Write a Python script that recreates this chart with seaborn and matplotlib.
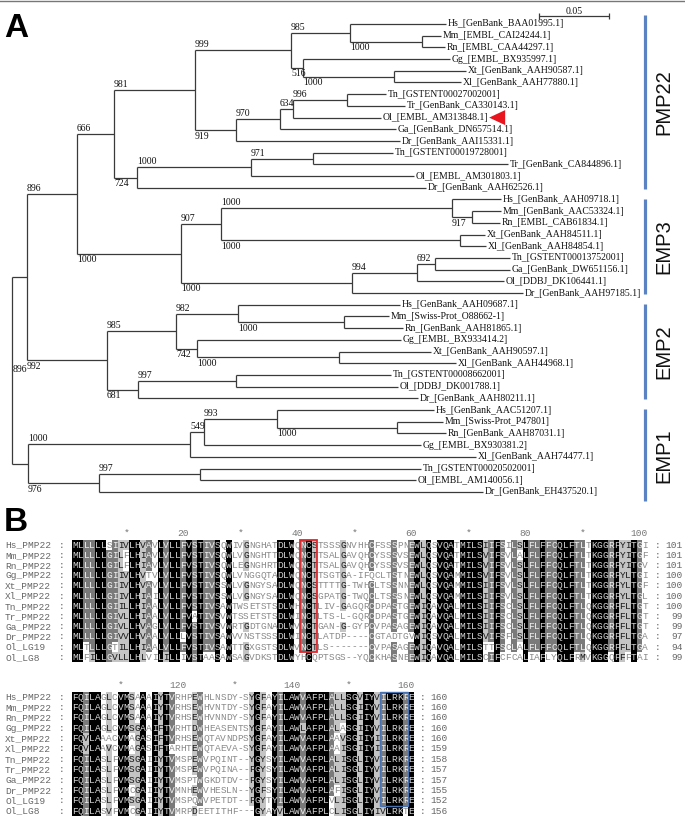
import numpy as np
import matplotlib
matplotlib.use("Agg")
import matplotlib.pyplot as plt
import seaborn as sns
from collections import Counter
from matplotlib.colors import ListedColormap
from matplotlib.patches import Polygon, Rectangle
from matplotlib.lines import Line2D

# ---------------- data: tree (panel A) ----------------
leaf_labels = [
    "Hs_[GenBank_BAA01995.1]", "Mm_[EMBL_CAI24244.1]", "Rn_[EMBL_CAA44297.1]",
    "Gg_[EMBL_BX935997.1]", "Xt_[GenBank_AAH90587.1]", "Xl_[GenBank_AAH77880.1]",
    "Tn_[GSTENT00027002001]", "Tr_[GenBank_CA330143.1]", "Ol_[EMBL_AM313848.1]",
    "Ga_[GenBank_DN657514.1]", "Dr_[GenBank_AAI15331.1]", "Tn_[GSTENT00019728001]",
    "Tr_[GenBank_CA844896.1]", "Ol_[EMBL_AM301803.1]", "Dr_[GenBank_AAH62526.1]",
    "Hs_[GenBank_AAH09718.1]", "Mm_[GenBank_AAC53324.1]", "Rn_[EMBL_CAB61834.1]",
    "Xt_[GenBank_AAH84511.1]", "Xl_[GenBank_AAH84854.1]", "Tn_[GSTENT00013752001]",
    "Ga_[GenBank_DW651156.1]", "Ol_[DDBJ_DK106441.1]", "Dr_[GenBank_AAH97185.1]",
    "Hs_[GenBank_AAH09687.1]", "Mm_[Swiss-Prot_O88662-1]", "Rn_[GenBank_AAH81865.1]",
    "Gg_[EMBL_BX933414.2]", "Xt_[GenBank_AAH90597.1]", "Xl_[GenBank_AAH44968.1]",
    "Tn_[GSTENT00008662001]", "Ol_[DDBJ_DK001788.1]", "Dr_[GenBank_AAH80211.1]",
    "Hs_[GenBank_AAC51207.1]", "Mm_[Swiss-Prot_P47801]", "Rn_[GenBank_AAH87031.1]",
    "Gg_[EMBL_BX930381.2]", "Xl_[GenBank_AAH74477.1]", "Tn_[GSTENT00020502001]",
    "Ol_[EMBL_AM140056.1]", "Dr_[GenBank_EH437520.1]",
]
leaf_depth = [
    0.3100, 0.3064, 0.3093, 0.3129, 0.3243, 0.3207, 0.2671, 0.2807, 0.2636, 0.2743,
    0.2771, 0.2721, 0.3543, 0.2871, 0.2957,
    0.3493, 0.3493, 0.3486, 0.3379, 0.3386, 0.3557, 0.3557, 0.3514, 0.3650,
    0.2771, 0.2693, 0.2793, 0.2779, 0.2993, 0.3171, 0.2707, 0.2757, 0.2900,
    0.3014, 0.3079, 0.3100, 0.2921, 0.3314, 0.2921, 0.2886, 0.3364,
]
node_ids = ["root", "Na", "Nb", "P", "n999", "T1", "HMR", "MR", "GXX", "XX",
            "F1", "F2", "F3", "TT", "Q1", "Q2", "Q3",
            "E3", "E3a", "E3hmr", "E3mr", "E3xx", "E3f", "E3f2", "E3tg",
            "E2", "E2a", "E2hmr", "E2mr", "E2g", "E2xx", "E2f", "E2to",
            "E1", "E1a", "E1b", "E1hmr", "E1mr", "E1f", "E1to"]
node_left = ["Na", "Nb", "P", "n999", "T1", "HMR", 0, 1, 3, 4,
             "F2", "F3", "TT", 6, "Q2", "Q3", 11,
             "E3a", "E3hmr", 15, 16, 18, "E3f2", "E3tg", 20,
             "E2a", "E2hmr", 24, 25, 27, 28, "E2to", 30,
             "E1a", "E1b", "E1hmr", 33, 34, "E1to", 38]
node_right = ["E1", "E2", "E3", "Q1", "F1", "GXX", "MR", 2, "XX", 5,
              10, 9, 8, 7, 14, 13, 12,
              "E3f", "E3xx", "E3mr", 17, 19, 23, 22, 21,
              "E2f", "E2g", "E2mr", 26, "E2xx", 29, 32, 31,
              "E1f", 37, 36, "E1mr", 35, 40, 39]
node_depth = [0.0, 0.0107, 0.0464, 0.0729, 0.1307, 0.1993, 0.2414, 0.2929, 0.2079, 0.2729,
              0.1600, 0.1914, 0.2007, 0.2393, 0.0893, 0.1707, 0.2150,
              0.1207, 0.1493, 0.3143, 0.3286, 0.3200, 0.2429, 0.2893, 0.3021,
              0.0679, 0.1171, 0.1614, 0.2371, 0.1321, 0.2336, 0.0900, 0.1600,
              0.0114, 0.1271, 0.1371, 0.1893, 0.2750, 0.0621, 0.1343]
node_support = [None, 896, 896, 666, 981, 999, 985, 1000, 516, 1000,
                919, 970, 634, 996, 724, 1000, 971,
                1000, 907, 1000, 917, 1000, 1000, 994, 692,
                992, 985, 982, 1000, 742, 1000, 681, 997,
                None, 1000, 549, 993, 1000, 976, 997]
group_names = ["PMP22", "EMP3", "EMP2", "EMP1"]
group_first = [0, 15, 24, 33]
group_last = [14, 23, 32, 40]
highlight_leaf = 8
scale_length = 0.05

# ---------------- data: alignment (panel B) ----------------
seq_names = ["Hs_PMP22", "Mm_PMP22", "Rn_PMP22", "Gg_PMP22", "Xt_PMP22", "Xl_PMP22",
             "Tn_PMP22", "Tr_PMP22", "Ga_PMP22", "Dr_PMP22", "Ol_LG19", "Ol_LG8"]
seq_block1 = [
    "MLLLLLSIIVLHVAVLVLLFVSTIVSQWIVGNGHATDLWQNCSTSSSGNVHHCFSSSPNEWLQSVQATMILSIIFSILSLFLFFCQLFTLTKGGRFYITGI",
    "MLLLLLGILFLHIAVLVLLFVSTIVSQWLVGNGHTTDLWQNCTTSALGAVQHCYSSSVSEWLQSVQATMILSVIFSVLALFLFFCQLFTLTKGGRFYITGF",
    "MLLLLLGILFLHIAVLVLLFVSTIVSQWLEGNGHRTDLWQNCTTSALGAVQHCYSSSVSEWLQSVQATMILSVIFSVLSLFLFFCQLFTLTKGGRFYITGV",
    "MLLLLLGIIVLHVTVLVLLFVSTIVSQWLVNGGQTADLWQNCTTSGTGA-IFQCLTSTNEWLQSVQAMMILSVIFSVLSLFLFFCQLFTLTKGGRFYLTGI",
    "MLLLLLGIIVLHVAVLVLLFVSTIVSSWLVGNGYSADLWQNCSTTTTG-TWHCLTSSNNEWLQSVQAMMILSIIFSVLSLFLFFCQLFTLTKGGRFYLTGF",
    "MLLLLLGIIVLHIAILVLLFVSTIVSSWLVGNGYSADLWQNCSGPATG-TWQCLTSSSNEWLQSVQAMMILSIIFSVLSLFLFFCQLFTLTKGGRFYLTGL",
    "MLLLLLGIILLHIAALVLLFVSTIVSAWTWSETSTSDLWHNCTLIV-GAGQRCDPASTGEWIQAVQALMILSIIFSCLSLFLFFCQLFTLQKGGRFFLTGT",
    "MLLLLLGIVLLHIAALVLLFVATIVSVWTSSETSTSDLWINCTLTS-L-GQRCDPASTGEWIQAVQALMILSIIFSCLSLFLFFCQLFTLQKGGRFFLTGT",
    "MLLLLLGIVLLHVAGLVLLFVSTIVSVWRTGDTGNADLWVNCTGAN-G-GYPCVPASAGEWIQAVQALMILSIIFSCLSLFLFFCQLFTLQKGGRFFLTGT",
    "MLLLLLGIVVLHVAALVLLLVSTIVSAWVVNSTSSSDLWINCTLATDP----CGTADTGVWIQSVQALMILSVIFSFLSLFLFFCQLFTLQKGGRFFLTGA",
    "MLTLLLGTILLHIAALVLLFVSTIVSAWTTGXGSTSDLWVNCTLS-------CVPASAGEWIQAVQALMILSTTFSCLALFLFFCQLFTLQKGGRFFLTGA",
    "MLFILLGVLLLHLVILILLIVSTAASAWSAGVDKSTDLWYHCQPTSGS--YQCKHASNEEWIQAVQALMILSCIFCFCALIAFLYQLFRMVKGGQFFFTAI",
]
seq_block2 = [
    "FQILAGLCVMSAAAIYTVRHPEWHLNSDY-SYGFAYILAWVAFPLALLSGVIYVILRKRE",
    "FQILAGLCVMSAAAIYTVRHSEWHVNTDY-SYGFAYILAWVAFPLALLSGIIYVILRKRE",
    "FQILAGLCVMSAAAIYTVRHSEWHVNNDY-SYGFAYILAWVAFPLALLSGIIYVILRKRE",
    "FQILAGLCVMSGAAIFTVRHTDWHEASENTSYGFAYILAWLAFPLALASGIIYVILRKRE",
    "FQVLAAACVMAGASIFTVRHSEWQTAVNDPSYGFAYILAWVAFPLAAVSGIIYIILRKRE",
    "FQVLAAVCVMAGASIFTARHTEWQTAEVA-SYGFAYILAWVAFPLAAISGIIYIILRKRE",
    "FQILASLFVMSGAIIYTVMSPEWVPQINT--YGYSYILAWVAFPLALISGLIYVILRKRE",
    "FQILASLFVMSGAIIYTVMSPEWVPQINA--FGYSYILAWVAFPLALISGLIYVILRKRE",
    "FQILASLFVMSGAIIYTVMSPTWGKDTDV--FGYSYILAWVAFPLALISGLIYVILRKRE",
    "FQILASLFVMCGAIIYTVMNHEWVHESLN--YGFSYILAWVAFPLAFISGLIYVILRKRE",
    "FQILASLFVMSGAIIYTVMSPQWVPETDT--FGYTYILAWVAFPLVLISGLIYVILRKRE",
    "FQILASVFVMCGAIIYTVMRPDEETITHF---GYAYVLAWVAFPLCLISGLIYIVLRKTE",
]
ruler_block1_cols = [10, 20, 30, 40, 50, 60, 70, 80, 90, 100]
ruler_block1_text = ["*", "20", "*", "40", "*", "60", "*", "80", "*", "100"]
ruler_block2_cols = [110, 120, 130, 140, 150, 160]
ruler_block2_text = ["*", "120", "*", "140", "*", "160"]
glyco_cols = (41, 43)      # boxed in red, block 1
motif_cols = (156, 160)    # boxed in blue, block 2 (alignment columns)
boxed_rows = (0, 10)
similar_groups = ["ILVM", "FYW", "KR", "DE", "ST", "NQ"]

# ---------------- layout ----------------
W, H = 685, 817
PX = 1400.0          # pixels per substitution unit
X0, Y0, DY = 12.0, 24.0, 11.7
fig = plt.figure(figsize=(W / 100, H / 100), dpi=100)
fig.patch.set_facecolor("white")

serif = "Liberation Serif"
mono = "Liberation Mono"
sans = "Liberation Sans"
line_col = "#3a3a3a"

axT = fig.add_axes([0, 0, 1, 1])
axT.set_xlim(-X0 / PX, (W - X0) / PX)
axT.set_ylim((H - Y0) / DY, -Y0 / DY)
axT.axis("off")

children = {n: (l, r) for n, l, r in zip(node_ids, node_left, node_right)}
depth = {i: d for i, d in enumerate(leaf_depth)}
depth.update({n: d for n, d in zip(node_ids, node_depth)})
support = dict(zip(node_ids, node_support))
parent = {}
for n, (l, r) in children.items():
    parent[l] = (n, "top")
    parent[r] = (n, "bottom")

ycache = {}
def ypos(n):
    if isinstance(n, int):
        return float(n)
    if n not in ycache:
        l, r = children[n]
        ycache[n] = (ypos(l) + ypos(r)) / 2
    return ycache[n]

for n, (l, r) in children.items():
    xn = depth[n]
    axT.vlines(xn, ypos(l), ypos(r), color=line_col, lw=0.9)
    for c in (l, r):
        axT.hlines(ypos(c), xn, depth[c], color=line_col, lw=0.9)

# leaf labels
leaf_texts = []
for i, lab in enumerate(leaf_labels):
    t = axT.text(depth[i] + 1.5 / PX, i, lab, ha="left", va="center",
                 fontsize=7, family=serif, color="#111111")
    leaf_texts.append(t)

# bootstrap supports
for n in node_ids:
    s = support[n]
    if s is None or n not in parent:
        continue
    p, side = parent[n]
    if p == "root":
        # drawn at the root, beneath the lower branch of this node
        yb = ypos(children[n][1])
        axT.text(depth[p] + 1 / PX, yb + 5 / DY, str(s), ha="left", va="top",
                 fontsize=7, family=serif, color="#111111")
        continue
    if side == "top":
        axT.text(depth[p], ypos(n) - 1.0 / DY, str(s), ha="left", va="bottom",
                 fontsize=7, family=serif, color="#111111")
    else:
        axT.text(depth[p], ypos(n) + 1.5 / DY, str(s), ha="left", va="top",
                 fontsize=7, family=serif, color="#111111")

# scale bar
sb_x = (539 - X0) / PX
sb_y = (16 - Y0) / DY
axT.hlines(sb_y, sb_x, sb_x + scale_length, color=line_col, lw=0.9)
for xx in (sb_x, sb_x + scale_length):
    axT.vlines(xx, sb_y - 3 / DY, sb_y + 3 / DY, color=line_col, lw=0.9)
axT.text(sb_x + scale_length / 2, sb_y - 0.5 / DY, f"{scale_length:.2f}", ha="center",
         va="bottom", fontsize=7, family=serif, color="#111111")

# group bars and labels
def fy(py):
    return 1 - py / H
def fx(px):
    return px / W

bar_col = "#5b82c2"
for k, name in enumerate(group_names):
    top = ypos(group_first[k]) - 0.8
    bot = ypos(group_last[k]) + 0.8
    if k > 0:
        top = (ypos(group_last[k - 1]) + ypos(group_first[k])) / 2 + 5 / DY
    if k < len(group_names) - 1:
        bot = (ypos(group_last[k]) + ypos(group_first[k + 1])) / 2 - 5 / DY
    axT.vlines((645 - X0) / PX, top, bot, color=bar_col, lw=2.3)
    axT.text((664 - X0) / PX, (top + bot) / 2, name, rotation=90, ha="center",
             va="center", fontsize=14.5, family=sans, color="#111111")

# panel letters and frame line
fig.text(fx(4), fy(13), "A", fontsize=24, fontweight="bold", family=sans, va="top", ha="left")
fig.text(fx(4), fy(507), "B", fontsize=24, fontweight="bold", family=sans, va="top", ha="left")
fig.add_artist(Line2D([0, 1], [fy(0.6), fy(0.6)], color="#777777", lw=1.0))

# ---------------- alignment ----------------
bg_colors = ["#ffffff", "#c4c4c4", "#7a7a7a", "#000000"]
fg_colors = ["#8a8a8a", "#1a1a1a", "#f2f2f2", "#d4d4d4"]
cmap = ListedColormap(bg_colors)
CW = 5.703

def conservation(seqs):
    n = len(seqs)
    L = len(seqs[0])
    lev = np.zeros((n, L), dtype=int)
    for j in range(L):
        col = [s[j] for s in seqs]
        res = [c for c in col if c != "-"]
        if res:
            top, c = Counter(res).most_common(1)[0]
            frac = c / n
            lvl = 3 if c == n else (2 if frac >= 0.8 else (1 if frac >= 0.6 else 0))
            if lvl:
                for i, ch in enumerate(col):
                    if ch == top:
                        lev[i, j] = lvl
        for g in similar_groups:
            gc = sum(ch in g for ch in col)
            if gc / n >= 0.8:
                for i, ch in enumerate(col):
                    if ch in g and lev[i, j] == 0:
                        lev[i, j] = 1
    return lev

def draw_block(seqs, top_px, row_h, ruler_cols, ruler_text, col_offset, prev_counts,
               num_right_px, colon_px, box=None):
    nrow = len(seqs)
    ncol = len(seqs[0])
    left_px = 72.0
    ax = fig.add_axes([fx(left_px), fy(top_px + nrow * row_h), ncol * CW / W, nrow * row_h / H])
    lev = conservation(seqs)
    letters = np.array([list(s) for s in seqs])
    sns.heatmap(lev, cmap=cmap, vmin=-0.5, vmax=3.5, cbar=False, annot=letters, fmt="",
                annot_kws=dict(fontsize=6.8, family=mono), xticklabels=False,
                yticklabels=False, linewidths=0, ax=ax)
    for t in ax.texts:
        x, y = t.get_position()
        t.set_color(fg_colors[lev[int(y), int(x)]])
    ax.set_xlim(0, ncol)
    ax.set_ylim(nrow, 0)
    def dx(px):
        return (px - left_px) / CW
    counts = []
    for i, (nm, s) in enumerate(zip(seq_names, seqs)):
        ax.text(dx(5), i + 0.5, nm, ha="left", va="center", fontsize=6.8, family=mono,
                color="#666666", clip_on=False)
        ax.text(dx(colon_px[0]), i + 0.5, ":", ha="center", va="center", fontsize=6.8,
                family=mono, color="#666666", clip_on=False)
        cnt = prev_counts[i] + sum(ch != "-" for ch in s)
        counts.append(cnt)
        ax.text(dx(colon_px[1]), i + 0.5, ":", ha="center", va="center", fontsize=6.8,
                family=mono, color="#666666", clip_on=False)
        ax.text(dx(num_right_px), i + 0.5, str(cnt), ha="right", va="center", fontsize=6.8,
                family=mono, color="#666666", clip_on=False)
    for c, tx in zip(ruler_cols, ruler_text):
        ax.text(c - col_offset - 0.5, 0.5 - 11.5 / row_h, tx, ha="center", va="center",
                fontsize=6.8, family=mono, color="#777777", clip_on=False)
    if box is not None:
        (c0, c1), (r0, r1), colr, lw = box
        ax.add_patch(Rectangle((c0 - col_offset - 1, r0), c1 - c0 + 1, r1 - r0 + 1,
                               fill=False, edgecolor=colr, lw=lw, clip_on=False, zorder=5))
    return counts

zeros = [0] * len(seq_names)
cnt1 = draw_block(seq_block1, 540.0, 10.2, ruler_block1_cols, ruler_block1_text, 0, zeros,
                  683, (62, 658), box=(glyco_cols, boxed_rows, "#e0262b", 1.3))
draw_block(seq_block2, 692.0, 10.36, ruler_block2_cols, ruler_block2_text, len(seq_block1[0]),
           cnt1, 448, (62, 423), box=(motif_cols, boxed_rows, "#4a72b0", 1.0))

# red arrowhead marking the medaka PMP22 sequence
fig.canvas.draw()
bb = leaf_texts[highlight_leaf].get_window_extent()
yc = axT.transData.transform((0, highlight_leaf))[1]
tip = bb.x1 + 1
tri = Polygon([(tip, yc), (tip + 16, yc + 7.5), (tip + 16, yc - 7.5)], closed=True,
              facecolor="#e8141e", edgecolor="none", transform=None)
fig.add_artist(tri)

fig.savefig("out.png", dpi=100)
